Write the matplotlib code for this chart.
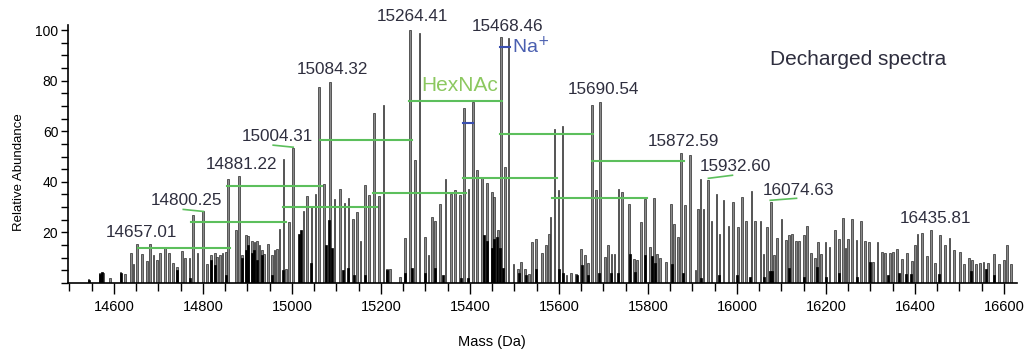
import numpy as np
import matplotlib
matplotlib.use('Agg')
import matplotlib.pyplot as plt
from matplotlib.ticker import MultipleLocator

# main (grey) peaks: mass (Da), relative abundance
mass = [14543, 14569, 14575, 14592, 14615, 14625, 14639, 14644, 14652, 14663,
        14674, 14681, 14689, 14697, 14704, 14715, 14723, 14733, 14741, 14753,
        14760, 14770, 14777, 14788, 14800, 14809, 14819, 14828, 14831, 14839,
        14844, 14852, 14857, 14875, 14882, 14888, 14897, 14902, 14910, 14916,
        14921, 14927, 14933, 14938, 14947, 14955, 14961, 14966, 14972, 14981,
        14987, 14994, 15002, 15026, 15034, 15044, 15053, 15061, 15073, 15086,
        15096, 15109, 15118, 15127, 15137, 15146, 15154, 15165, 15174, 15185,
        15195, 15206, 15214, 15221, 15243, 15255, 15266, 15276, 15287, 15300,
        15307, 15315, 15322, 15333, 15345, 15357, 15367, 15378, 15387, 15397,
        15407, 15416, 15427, 15438, 15450, 15455, 15464, 15470, 15479, 15487,
        15498, 15509, 15515, 15524, 15532, 15540, 15549, 15562, 15571, 15577,
        15581, 15590, 15599, 15608, 15617, 15628, 15639, 15650, 15658, 15666,
        15674, 15683, 15693, 15703, 15710, 15718, 15725, 15734, 15742, 15757,
        15769, 15776, 15785, 15794, 15804, 15813, 15821, 15828, 15841, 15852,
        15859, 15867, 15874, 15884, 15894, 15907, 15912, 15918, 15925, 15935,
        15943, 15954, 15961, 15970, 15981, 15991, 16003, 16012, 16021, 16033,
        16041, 16053, 16060, 16068, 16077, 16083, 16090, 16100, 16110, 16117,
        16124, 16133, 16139, 16150, 16158, 16167, 16175, 16183, 16189, 16199,
        16208, 16220, 16229, 16238, 16244, 16250, 16259, 16269, 16279, 16288,
        16296, 16305, 16316, 16326, 16333, 16344, 16351, 16360, 16371, 16382,
        16394, 16401, 16406, 16416, 16427, 16436, 16446, 16457, 16468, 16478,
        16487, 16502, 16511, 16521, 16528, 16538, 16547, 16554, 16564, 16578,
        16589, 16600, 16607, 16616]
abund = [1.4, 4.0, 3.8, 2.0, 4.3, 3.4, 11.8, 7.6, 15.5, 11.3,
         8.9, 15.5, 10.9, 9.2, 11.8, 14.2, 11.8, 7.8, 6.3, 12.6,
         10.0, 10.0, 27.0, 11.8, 28.4, 7.6, 11.0, 11.8, 10.2, 10.9,
         11.8, 12.2, 41.3, 21.0, 42.3, 10.9, 18.8, 18.4, 16.8, 16.2,
         16.8, 14.9, 12.9, 11.6, 15.5, 10.9, 12.9, 13.5, 21.5, 49.2,
         5.6, 24.1, 53.5, 28.4, 34.5, 30.3, 35.2, 77.6, 39.3, 79.5,
         33.3, 37.3, 31.5, 33.7, 25.4, 28.0, 16.8, 38.6, 34.7, 67.3,
         34.5, 70.3, 5.6, 5.6, 2.3, 17.7, 100.0, 48.5, 99.0, 18.1,
         11.0, 26.0, 24.7, 31.4, 41.0, 35.3, 36.6, 34.7, 69.0, 37.3,
         71.6, 44.6, 41.9, 39.5, 36.0, 34.0, 20.8, 97.1, 45.9, 96.7,
         7.6, 5.6, 8.2, 5.6, 3.6, 16.2, 17.5, 11.8, 14.9, 19.5,
         26.0, 60.7, 36.9, 62.0, 3.0, 4.0, 3.5, 13.5, 10.9, 8.0,
         70.3, 36.6, 71.6, 10.2, 14.9, 11.6, 11.6, 37.3, 36.0, 31.1,
         9.6, 9.0, 24.1, 33.3, 14.2, 33.7, 11.6, 10.0, 8.2, 31.4,
         23.4, 18.1, 51.4, 30.7, 50.5, 5.0, 29.4, 41.3, 29.4, 40.9,
         24.7, 35.0, 19.5, 32.7, 22.4, 32.0, 22.1, 34.0, 24.7, 36.4,
         24.7, 24.7, 11.6, 22.1, 32.0, 11.0, 17.9, 25.4, 17.1, 18.8,
         19.5, 16.8, 16.8, 18.8, 22.4, 11.8, 10.0, 16.2, 11.3, 16.2,
         14.2, 21.0, 17.5, 25.8, 14.0, 17.5, 25.4, 17.1, 24.7, 16.6,
         16.2, 8.2, 16.2, 12.2, 11.8, 11.8, 12.2, 13.5, 9.6, 11.8,
         8.9, 15.2, 19.5, 19.7, 10.5, 21.0, 8.0, 18.8, 14.9, 17.9,
         12.9, 12.2, 7.5, 10.0, 9.2, 7.5, 8.0, 8.2, 8.0, 11.6,
         7.5, 9.2, 14.9, 7.5]

# second (black) trace
mass_b = [14543, 14569, 14573, 14615, 14741, 14770, 14819, 14827, 14852, 14888,
          14897, 14902, 14910, 14916, 14921, 14933, 14955, 14980, 15016, 15020,
          15044, 15077, 15084, 15090, 15115, 15125, 15140, 15165, 15214, 15255,
          15270, 15300, 15322, 15340, 15380, 15395, 15432, 15438, 15450, 15455,
          15461, 15467, 15475, 15510, 15525, 15548, 15600, 15610, 15640, 15652,
          15665, 15690, 15716, 15732, 15760, 15770, 15794, 15810, 15815, 15854,
          15880, 15920, 15960, 16000, 16030, 16060, 16075, 16080, 16116, 16150,
          16180, 16200, 16230, 16270, 16300, 16340, 16365, 16380, 16392, 16455,
          16525, 16560, 16578]
abund_b = [1.2, 3.5, 4.5, 4.0, 5.0, 2.0, 9.0, 7.0, 3.0, 10.0,
           13.0, 15.0, 12.0, 13.0, 9.0, 11.0, 3.0, 5.0, 19.5, 21.0,
           8.0, 14.9, 25.0, 14.0, 5.0, 6.0, 3.0, 3.0, 5.0, 4.0,
           6.0, 4.0, 6.0, 3.0, 2.0, 2.0, 18.8, 16.8, 14.0, 17.5,
           18.1, 14.0, 6.0, 4.0, 3.0, 5.6, 5.6, 4.0, 3.0, 7.0,
           3.0, 4.0, 4.0, 4.0, 11.6, 4.3, 10.9, 10.5, 8.0, 7.6,
           4.0, 2.0, 3.0, 3.0, 2.5, 2.3, 4.7, 4.7, 6.0, 2.5,
           6.3, 2.5, 4.0, 2.5, 8.2, 3.0, 3.9, 3.5, 3.5, 3.5,
           4.7, 5.6, 3.0]

# peak labels: text, mass position, abundance position
labels = ['14657.01', '14800.25', '14881.22', '15004.31', '15084.32', '15264.41',
          '15468.46', '15690.54', '15872.59', '15932.60', '16074.63', '16435.81']
label_x = [14661, 14763, 14887, 14968, 15092, 15270, 15484, 15699, 15881, 15996, 16138, 16446]
label_y = [17.2, 29.5, 43.9, 55.1, 81.3, 102.6, 98.3, 73.6, 52.9, 43.0, 33.7, 22.4]

# HexNAc ladders (start mass, end mass, level)
hex_start = [14655, 14774, 14855, 14980, 15063, 15183, 15264, 15385, 15468, 15675, 15585]
hex_end = [14861, 14987, 15068, 15192, 15270, 15392, 15473, 15596, 15677, 15882, 15797]
hex_y = [13.7, 24.0, 38.3, 29.9, 56.7, 35.4, 72.0, 41.4, 59.1, 48.1, 33.5]

# small connectors from label to peak
conn_x = [(14756, 14801), (14958, 15003), (15936, 15990), (16075, 16134)]
conn_y = [(29.1, 28.3), (54.5, 53.7), (41.4, 42.6), (32.7, 33.5)]

# Na+ adduct marks
na_x = [(15468, 15491), (15385, 15407)]
na_y = [93.3, 63.2]

fig = plt.figure(figsize=(10.34, 3.56), dpi=100)
ax = fig.add_axes([0.0658, 0.205, 0.918, 0.7247])

ax.bar(mass, abund, width=4, color='#8a8a8a', edgecolor='#2a2a2a', linewidth=0.5, zorder=2)
ax.bar(mass_b, abund_b, width=4.5, color='black', edgecolor='black', linewidth=0.5, zorder=3)

green = '#5cbf5c'
for x0, x1, y in zip(hex_start, hex_end, hex_y):
    ax.plot([x0, x1], [y, y], color=green, lw=1.5, zorder=4)
for xs, ys in zip(conn_x, conn_y):
    ax.plot(xs, ys, color=green, lw=1.2, zorder=4)
for xs, y in zip(na_x, na_y):
    ax.plot(xs, [y, y], color='#3a4fb0', lw=1.5, zorder=4)

txt_col = '#2e2e3e'
for t, x, y in zip(labels, label_x, label_y):
    ax.text(x, y, t, ha='center', va='bottom', fontsize=12.3, color=txt_col,
            family='Liberation Sans', zorder=5)

ax.text(15378, 74.3, 'HexNAc', ha='center', va='bottom', fontsize=15,
        color='#8cc860', family='Liberation Sans')
ax.text(15495, 93.5, 'Na$^{+}$', ha='left', va='center', fontsize=14,
        color='#4a5fb0', family='Liberation Sans')
ax.text(16273, 88.5, 'Decharged spectra', ha='center', va='center', fontsize=15,
        color=txt_col, family='Liberation Sans')

ax.set_xlim(14497, 16630)
ax.set_ylim(0, 102)
ax.xaxis.set_major_locator(MultipleLocator(200))
ax.xaxis.set_minor_locator(MultipleLocator(50))
ax.yaxis.set_major_locator(MultipleLocator(20))
ax.yaxis.set_minor_locator(MultipleLocator(5))
ax.set_yticks([20, 40, 60, 80, 100])

for s in ['top', 'right']:
    ax.spines[s].set_visible(False)
ax.spines['left'].set_linewidth(1.2)
ax.spines['bottom'].set_linewidth(1.2)
ax.tick_params(axis='x', which='major', length=8, width=1, labelsize=10.5, pad=4)
ax.tick_params(axis='x', which='minor', length=6, width=1)
ax.tick_params(axis='y', which='major', length=5, width=1, labelsize=10, pad=2)
ax.tick_params(axis='y', which='minor', length=5, width=1)
for lab in ax.get_xticklabels() + ax.get_yticklabels():
    lab.set_family('Liberation Sans')

ax.set_xlabel('Mass (Da)', fontsize=10.5, family='Liberation Sans')
ax.xaxis.set_label_coords(0.447, -0.2)
ax.set_ylabel('Relative Abundance', fontsize=9.5, family='Liberation Sans')
ax.yaxis.set_label_coords(-0.045, 0.43)

fig.savefig('out.png', dpi=100)
